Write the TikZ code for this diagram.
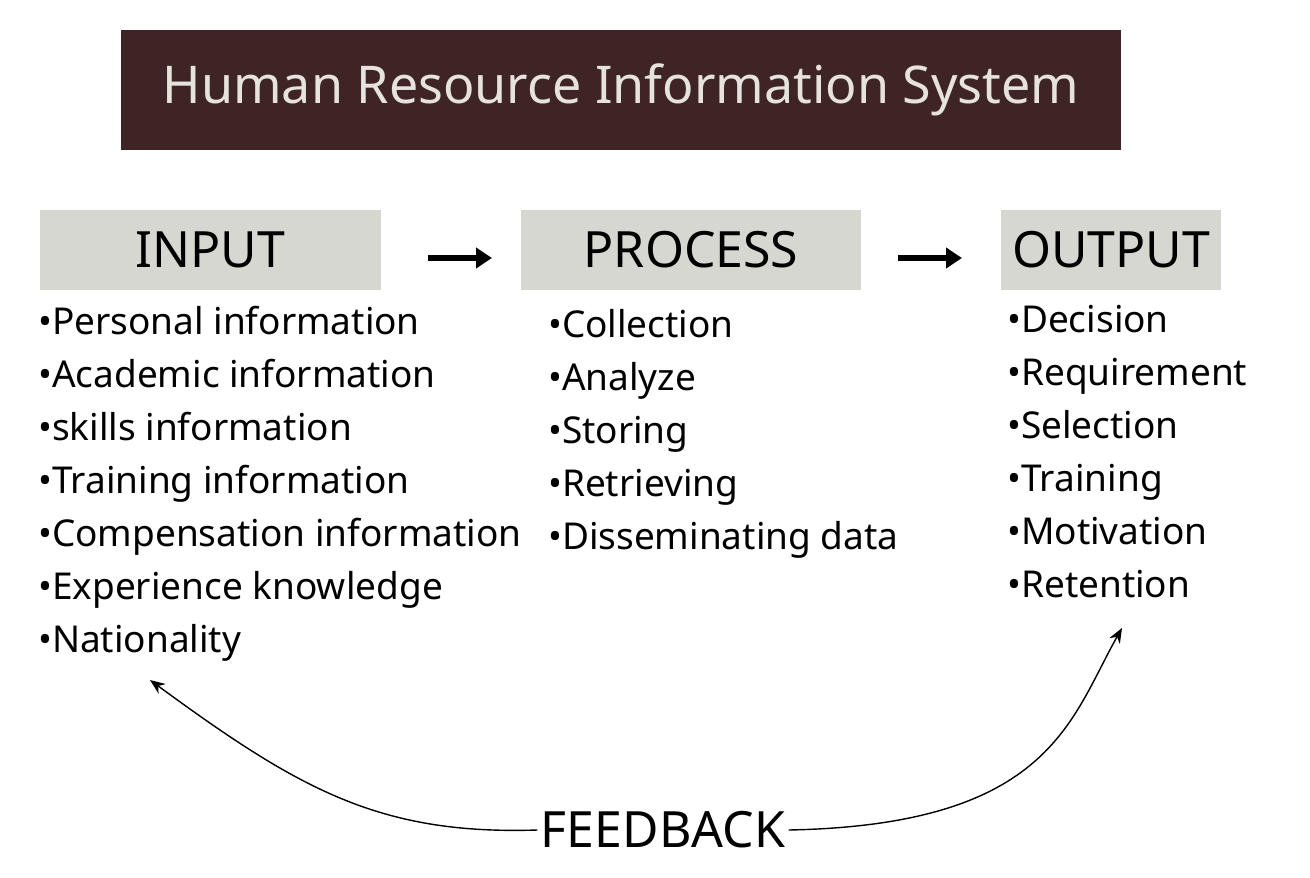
\documentclass[tikz,border=0pt]{standalone}
\usepackage{fontspec}
\setmainfont{Noto Sans}
\usetikzlibrary{positioning,arrows.meta}

\begin{document}
\begin{tikzpicture}[x=1pt,y=-1pt]
       \definecolor{brown}{HTML}{3F2426}
       \definecolor{titletext}{HTML}{E6E2DC}
       \definecolor{headgray}{HTML}{D6D7D1}
       \tikzstyle{titlebox}  = [fill = brown, minimum width=1000pt, minimum height=120pt, text = titletext, font=\fontsize{52}{58}\selectfont]
       \tikzstyle{head}      = [fill = headgray, minimum height=80pt, font=\fontsize{50}{56}\selectfont]
       \tikzstyle{item}      = [anchor=base west, inner sep=0pt, font=\fontsize{37}{42}\selectfont]
       \tikzstyle{connector} = [line width=6pt, -{Triangle[length=16pt,width=20pt]}]
       \tikzstyle{loop}      = [line width=1.4pt, -{Stealth[length=15pt,width=12pt]}]

       \useasboundingbox (0,0) rectangle (1310,878);
       \node [titlebox] (title) at (621,90) {Human Resource Information System};

       \node [head, minimum width=341pt] (input)   at (210.5,250) {INPUT};
       \node [head, minimum width=340pt] (process) at (691,250)   {PROCESS};
       \node [head, minimum width=220pt] (output)  at (1111,250)  {OUTPUT};

       \coordinate (a1) at (428,258); \coordinate (a2) at (492,258);
       \coordinate (b1) at (898,258); \coordinate (b2) at (962,258);
       \draw [connector] (a1) -- (a2);
       \draw [connector] (b1) -- (b2);

       % input list
       \foreach \txt [count=\i] in {Personal information, Academic information, skills information,
           Training information, Compensation information, Experience knowledge, Nationality}
         \node [item] (in\i) at (38,{334+53*(\i-1)}) {•\txt};
       % process list
       \foreach \txt [count=\i] in {Collection, Analyze, Storing, Retrieving, Disseminating data}
         \node [item] (pr\i) at (548,{337+53*(\i-1)}) {•\txt};
       % output list
       \foreach \txt [count=\i] in {Decision, Requirement, Selection, Training, Motivation, Retention}
         \node [item] (out\i) at (1007,{332+53*(\i-1)}) {•\txt};

       \node [font=\fontsize{50}{56}\selectfont] (feedback) at (663,830) {FEEDBACK};
       \coordinate (inback)  at (150,680);
       \coordinate (outback) at (1122,628);
       \draw [loop] (feedback.west) .. controls (380,835) and (300,790) .. (inback);
       \draw [loop] (feedback.east) .. controls (1050,825) and (1070,720) .. (outback);
\end{tikzpicture}
\end{document}
